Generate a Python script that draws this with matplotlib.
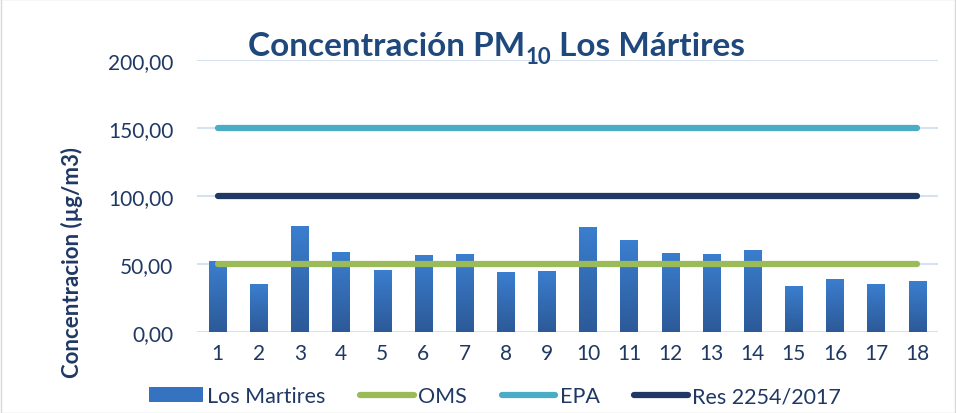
import numpy as np
import matplotlib.pyplot as plt
from matplotlib.colors import LinearSegmentedColormap

# PM10 concentration per sample, Los Martires station
dias = list(range(1, 19))
los_martires = [52.2, 35.3, 77.9, 58.8, 45.6, 56.6, 57.4, 44.1, 44.9,
                77.2, 67.6, 58.1, 57.4, 60.3, 33.8, 39.0, 35.3, 37.5]
oms = [50] * 18
epa = [150] * 18
res = [100] * 18
y_ticks = [0, 50, 100, 150, 200]

plt.rcParams['font.family'] = ['Lato', 'DejaVu Sans']
text_col = '#1F3864'
title_col = '#1F497D'

fig = plt.figure(figsize=(9.56, 4.14), dpi=100)
ax = fig.add_axes([0.206, 0.196, 0.775, 0.657])

x = np.arange(len(dias))
bars = ax.bar(x, los_martires, width=0.42, color='#3572C0', label='Los Martires', zorder=2)

# vertical gradient on the bars
grad = LinearSegmentedColormap.from_list('g', ['#2C5A98', '#3B7ECF'])
for b in bars:
    x0, y0 = b.get_x(), b.get_y()
    im = ax.imshow(np.linspace(0, 1, 64).reshape(-1, 1), cmap=grad, origin='lower',
                   extent=[x0, x0 + b.get_width(), y0, y0 + b.get_height()],
                   aspect='auto', zorder=2)
    im.set_clip_path(b)

ax.plot(x, oms, color='#9BBB59', lw=4.5, solid_capstyle='round', label='OMS', zorder=3)
ax.plot(x, epa, color='#4BACC6', lw=4.5, solid_capstyle='round', label='EPA', zorder=3)
ax.plot(x, res, color='#1F3864', lw=4.5, solid_capstyle='round', label='Res 2254/2017', zorder=3)

ax.set_xlim(-0.5, len(dias) - 0.5)
ax.set_ylim(0, 200)
ax.set_xticks(x)
ax.set_xticklabels([str(d) for d in dias], fontsize=15, color=text_col)
ax.set_yticks(y_ticks)
ax.set_yticklabels([f"{v:.2f}".replace('.', ',') for v in y_ticks], fontsize=15, color=text_col)
ax.tick_params(axis='y', length=0, pad=17)
ax.tick_params(axis='x', length=0, pad=8)
ax.yaxis.grid(True, color='#D6E2F0', lw=1.5, zorder=0)
for s in ax.spines.values():
    s.set_visible(False)

fig.text(0.075, 0.365, 'Concentracion (µg/m3)', rotation=90, ha='center', va='center',
         fontsize=16, fontweight='bold', color=text_col)

# title with a lowered subscript
t1 = fig.text(0.259, 1 - 56 / 414, 'Concentración PM', ha='left', va='baseline',
              fontsize=24, fontweight='bold', color=title_col)
t2 = ax.annotate('10', xy=(1, 0), xycoords=t1, xytext=(0.5, -5), textcoords='offset points',
                 ha='left', va='bottom', fontsize=16, fontweight='bold', color=title_col,
                 annotation_clip=False)
ax.annotate(' Los Mártires', xy=(1, 0), xycoords=t2, xytext=(0, 5), textcoords='offset points',
            ha='left', va='bottom', fontsize=24, fontweight='bold', color=title_col,
            annotation_clip=False)

h, l = ax.get_legend_handles_labels()
order = [3, 0, 1, 2]
fig.legend([h[i] for i in order], [l[i] for i in order], loc='center',
           bbox_to_anchor=(0.518, 0.04), ncol=4, frameon=False,
           fontsize=15.5, handlelength=2.5, columnspacing=1.6, handletextpad=0.2,
           labelcolor=text_col)

fig.patches.append(plt.Rectangle((0.001, 0.001), 0.998, 0.998, transform=fig.transFigure,
                                 fill=False, edgecolor='#D9D9D9', lw=1))

fig.savefig('out.png', dpi=100)
